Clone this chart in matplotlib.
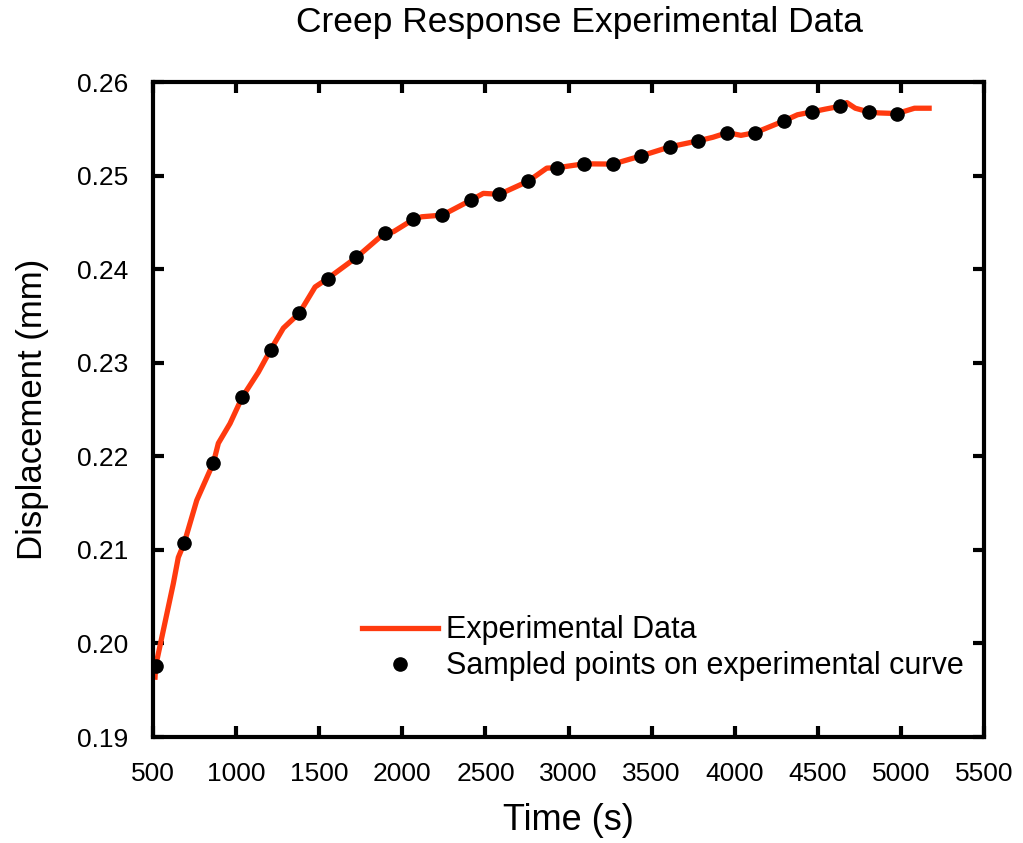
import matplotlib
matplotlib.use('Agg')
import matplotlib.pyplot as plt

plt.rcParams['font.family'] = ['Liberation Sans', 'DejaVu Sans']

# experimental creep curve (time in s, displacement in mm)
t_exp = [512, 516, 622, 652, 687, 763, 863, 893, 963, 1036, 1134, 1174, 1208,
         1284, 1380, 1475, 1551, 1723, 1896, 1946, 2066, 2117, 2241, 2413,
         2487, 2584, 2758, 2869, 2931, 3093, 3266, 3434, 3611, 3781, 3869,
         3955, 4037, 4123, 4294, 4377, 4465, 4543, 4634, 4674, 4725, 4805,
         4863, 4976, 5081, 5169]
d_exp = [0.1964, 0.1976, 0.2064, 0.2092, 0.2107, 0.2153, 0.2193, 0.2214,
         0.2235, 0.2263, 0.2290, 0.2303, 0.2314, 0.2337, 0.2353, 0.2381,
         0.2390, 0.24125, 0.2439, 0.2440, 0.24532, 0.2456, 0.24578, 0.24738,
         0.2481, 0.2480, 0.24941, 0.2508, 0.25084, 0.25126, 0.25123, 0.25209,
         0.25308, 0.25372, 0.2541, 0.25459, 0.2543, 0.25459, 0.25583, 0.2565,
         0.25681, 0.2571, 0.25741, 0.2578, 0.2572, 0.25681, 0.2567, 0.25663,
         0.2572, 0.2572]

# sampled points on the curve
t_sample = [516, 687, 863, 1036, 1208, 1380, 1551, 1723, 1896, 2066, 2241,
            2413, 2584, 2758, 2931, 3093, 3266, 3434, 3611, 3781, 3955, 4123,
            4294, 4465, 4634, 4805, 4976]
d_sample = [0.1976, 0.2107, 0.2193, 0.2263, 0.2314, 0.2353, 0.2390, 0.24125,
            0.2439, 0.24532, 0.24578, 0.24738, 0.2480, 0.24941, 0.25084,
            0.25126, 0.25123, 0.25209, 0.25308, 0.25372, 0.25459, 0.25459,
            0.25583, 0.25681, 0.25741, 0.25681, 0.25663]

x_ticks = [500, 1000, 1500, 2000, 2500, 3000, 3500, 4000, 4500, 5000, 5500]
y_ticks = [0.19, 0.20, 0.21, 0.22, 0.23, 0.24, 0.25, 0.26]

fig = plt.figure(figsize=(10.23, 8.43), dpi=100)
ax = fig.add_axes([0.1496, 0.1257, 0.8124, 0.777])

ax.plot(t_exp, d_exp, color='#ff3a0f', lw=3.8, label='Experimental Data', zorder=2)
ax.plot(t_sample, d_sample, 'o', color='black', ms=9.5, ls='none',
        label='Sampled points on experimental curve', zorder=3)

ax.set_xlim(500, 5500)
ax.set_ylim(0.19, 0.26)
ax.set_xticks(x_ticks)
ax.set_yticks(y_ticks)
ax.set_yticklabels(['%.2f' % v for v in y_ticks])

for s in ax.spines.values():
    s.set_linewidth(3)
ax.tick_params(direction='in', length=8, width=3, top=True, right=True,
               labelsize=19, pad=18)

ax.set_xlabel('Time (s)', fontsize=26, labelpad=12)
ax.set_ylabel('Displacement (mm)', fontsize=25, labelpad=20)
ax.set_title('Creep Response Experimental Data', fontsize=25.5, pad=36, x=0.513)

ax.legend(loc='lower left', bbox_to_anchor=(0.2515, 0.085), frameon=False,
          fontsize=22, handlelength=2.5, handletextpad=0.25, labelspacing=0.2,
          borderpad=0, borderaxespad=0, numpoints=1)

fig.savefig('out.png', dpi=100)
